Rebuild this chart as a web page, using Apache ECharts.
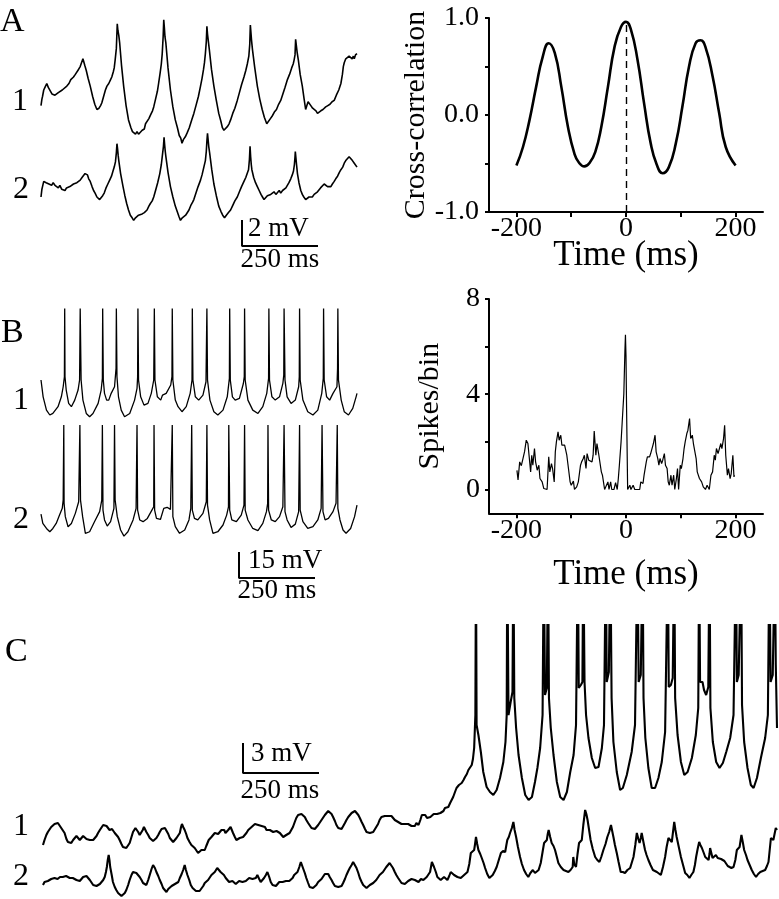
<!DOCTYPE html>
<html>
<head>
<meta charset="utf-8">
<script src="https://cdn.jsdelivr.net/npm/echarts@6/dist/echarts.min.js"></script>
<style>
  html, body { margin: 0; padding: 0; background: #fff; }
  #fig { width: 779px; height: 899px; }
</style>
</head>
<body>
<div id="fig"></div>
<script>
// ---- data: [time ms, membrane potential mV (relative)] ----
const aTrace1 = [[0,2.9],[3,3.4],[5,3.6],[9,4.1],[13,4.3],[19,4.6],[24,4.3],[30,4.2],[36,3.8],[41,3.9],[46,3.7],[52,3.6],[57,3.9],[63,3.8],[70,4.1],[76,4.0],[85,4.4],[92,4.6],[98,4.9],[104,4.8],[107,5.1],[113,5.3],[118,5.2],[124,5.7],[129,5.9],[134,6.0],[138,6.5],[140,6.4],[144,6.0],[149,5.6],[155,5.0],[162,4.4],[170,3.6],[177,3.0],[184,2.6],[191,2.7],[196,2.9],[200,3.1],[206,3.6],[212,4.1],[217,4.4],[223,4.6],[229,4.9],[233,5.1],[238,5.5],[241,5.8],[244,6.4],[248,7.3],[251,9.2],[253,8.7],[256,8.3],[259,7.7],[265,6.0],[272,4.4],[280,2.9],[288,1.8],[296,1.2],[301,0.9],[305,0.8],[311,0.7],[316,0.9],[321,0.7],[327,0.8],[333,1.0],[340,1.1],[344,1.5],[349,1.5],[355,1.9],[361,2.2],[367,2.5],[371,2.8],[377,3.4],[383,4.0],[387,4.6],[392,5.4],[396,6.1],[399,6.9],[402,8.2],[404,9.5],[406,8.9],[408,8.2],[411,7.7],[418,5.8],[426,4.1],[434,2.8],[442,1.8],[449,1.2],[455,0.6],[460,0.4],[464,0],[469,0.3],[475,0.5],[481,0.8],[488,1.2],[496,1.8],[503,2.3],[510,2.9],[518,3.6],[525,4.4],[530,5.0],[535,5.7],[538,6.2],[541,6.9],[544,7.8],[546,9.0],[548,8.4],[551,7.8],[554,7.2],[561,5.7],[569,4.4],[577,3.3],[585,2.3],[592,1.7],[597,1.2],[602,1.0],[608,1.1],[614,1.3],[619,1.5],[624,1.8],[631,2.3],[638,2.7],[646,3.3],[653,3.9],[660,4.5],[668,5.1],[674,5.6],[679,6.1],[684,6.7],[687,7.6],[689,9.1],[691,8.5],[693,7.9],[696,7.2],[703,5.9],[712,4.4],[720,3.4],[728,2.6],[735,2.0],[743,1.5],[749,1.6],[755,1.9],[761,2.1],[768,2.4],[775,2.6],[782,3.0],[789,3.3],[796,3.8],[803,4.3],[811,4.9],[818,5.3],[825,5.8],[830,6.1],[833,6.4],[836,6.8],[838,8.0],[840,7.6],[843,7.0],[847,6.4],[853,5.3],[860,4.4],[866,3.4],[871,2.6],[875,2.9],[879,3.2],[882,3.1],[888,2.9],[894,2.7],[899,2.6],[905,2.5],[910,2.3],[915,2.3],[921,2.5],[928,2.6],[937,2.8],[944,2.9],[951,3.0],[958,3.2],[965,3.3],[972,3.7],[980,4.1],[987,4.6],[992,5.3],[995,5.9],[998,6.2],[1003,6.5],[1008,6.4],[1014,6.7],[1019,6.6],[1024,6.5],[1028,6.7],[1031,6.5],[1035,6.8],[1040,6.9]];

const aTrace2 = [[0,1.9],[3,2.5],[5,2.7],[9,3.1],[13,3.2],[17,3.0],[21,3.1],[26,2.9],[30,3.0],[35,2.8],[40,3.0],[46,2.8],[52,2.8],[57,2.6],[62,2.8],[68,2.5],[73,2.6],[79,2.4],[84,2.6],[90,2.5],[95,2.7],[101,2.7],[107,2.9],[112,2.8],[118,3.0],[124,3.1],[129,3.2],[135,3.4],[140,3.5],[145,3.7],[149,3.8],[153,3.6],[157,3.3],[162,3.1],[168,2.7],[173,2.4],[178,2.2],[184,1.9],[189,1.8],[193,1.7],[198,1.8],[203,2.0],[208,2.2],[214,2.6],[220,2.9],[226,3.2],[232,3.5],[237,3.9],[241,4.2],[245,4.6],[248,5.3],[250,6.0],[252,5.6],[254,5.1],[256,4.7],[262,3.7],[270,2.7],[276,2.0],[282,1.4],[288,0.9],[294,0.5],[300,0.3],[305,0.1],[311,0.3],[316,0.2],[321,0.5],[327,0.5],[333,0.6],[340,0.7],[345,0.8],[349,0.9],[355,1.2],[360,1.4],[366,1.6],[371,1.9],[377,2.4],[384,3.0],[391,3.7],[396,4.4],[400,5.2],[403,5.8],[405,6.5],[407,5.9],[409,5.4],[411,5.0],[418,3.8],[426,2.7],[434,1.9],[442,1.2],[448,0.8],[454,0.4],[459,0.1],[465,0.3],[470,0.4],[476,0.5],[481,0.6],[487,0.9],[494,1.3],[499,1.5],[503,1.7],[510,2.2],[517,2.7],[525,3.2],[530,3.6],[536,4.2],[541,4.7],[544,5.4],[546,6.2],[548,6.8],[550,6.3],[552,5.8],[555,5.3],[562,4.0],[569,2.9],[577,2.0],[585,1.2],[592,0.8],[598,0.5],[604,0.3],[610,0.5],[617,0.7],[624,0.9],[630,1.2],[638,1.6],[646,1.9],[653,2.3],[660,2.7],[668,3.1],[674,3.4],[680,3.8],[683,4.0],[686,4.8],[688,5.8],[690,5.0],[692,4.4],[694,4.0],[700,3.4],[706,3.0],[712,2.7],[718,2.4],[724,2.1],[729,1.9],[734,1.7],[740,1.8],[745,2.0],[750,1.9],[756,2.1],[761,2.2],[767,2.3],[773,2.1],[778,2.2],[784,2.4],[789,2.2],[795,2.4],[800,2.5],[806,2.6],[811,2.7],[816,3.0],[822,3.3],[827,3.6],[831,3.9],[834,4.4],[836,5.0],[837,5.4],[839,4.9],[841,4.4],[844,3.7],[849,3.0],[855,2.4],[860,2.1],[865,1.9],[871,1.7],[876,1.8],[882,1.9],[887,1.8],[893,1.9],[899,2.1],[904,2.2],[910,2.3],[915,2.3],[920,2.6],[926,2.7],[932,2.9],[937,2.8],[943,2.7],[948,2.8],[954,2.7],[959,2.9],[965,3.1],[970,3.3],[976,3.5],[982,3.8],[987,4.0],[993,4.2],[998,4.5],[1003,4.7],[1008,4.8],[1014,5.0],[1019,4.9],[1025,4.7],[1031,4.5],[1036,4.4],[1040,4.2]];

// cross-correlation of the two A traces
const xcorrLag = [-200,-188,-176,-164,-152,-141,-130,-118,-106,-94,-86,-76,-66,-56,-45,-33,-21,-9,0,9,21,33,45,56,67,78,91,103,115,127,136,145,158,170,182,200];
const xcorrVal = [-0.52,-0.33,-0.05,0.29,0.60,0.74,0.64,0.29,-0.12,-0.40,-0.49,-0.53,-0.49,-0.38,-0.12,0.29,0.70,0.91,0.96,0.88,0.57,0.12,-0.29,-0.51,-0.60,-0.54,-0.29,0.09,0.50,0.74,0.77,0.70,0.40,0.02,-0.33,-0.52];

const bTrace1 = [[0,21.2],[7,11.5],[18,3.8],[29,1.0],[39,1.9],[56,5.8],[67,11.5],[73,17.3],[77,23.1],[78,62.5],[79,23.1],[83,15.4],[91,7.7],[100,5.8],[111,9.6],[122,15.4],[127,21.2],[129,62.5],[132,21.2],[138,9.6],[149,1.9],[160,0],[171,1.9],[188,7.7],[198,15.4],[202,22.1],[203,62.5],[205,21.2],[209,13.5],[216,9.6],[223,9.6],[231,13.5],[242,17.3],[247,27.9],[248,62.5],[250,23.1],[255,11.5],[264,3.8],[275,0],[292,1.9],[308,9.6],[316,16.3],[318,23.1],[319,62.5],[321,21.2],[328,11.5],[339,6.7],[352,7.7],[363,13.5],[371,21.2],[373,62.5],[375,21.2],[383,11.5],[394,9.6],[400,12.5],[412,13.5],[427,18.3],[431,23.1],[432,62.5],[434,21.2],[442,9.6],[451,5.8],[464,2.9],[478,5.8],[491,13.5],[497,21.2],[498,62.5],[500,21.2],[508,11.5],[519,9.6],[533,12.5],[543,20.2],[546,62.5],[548,21.2],[556,9.6],[569,2.9],[582,1.0],[599,3.8],[613,11.5],[620,22.1],[621,62.5],[623,21.2],[630,11.5],[639,9.6],[653,10.6],[666,19.2],[669,23.1],[670,62.5],[672,21.2],[681,9.6],[697,3.8],[714,1.9],[730,5.8],[743,13.5],[749,22.1],[750,62.5],[752,21.2],[760,11.5],[771,9.6],[785,11.5],[796,19.2],[799,24],[800,62.5],[803,21.2],[810,11.5],[823,7.7],[837,9.6],[848,17.3],[850,23.1],[851,62.5],[853,21.2],[862,9.6],[878,2.9],[895,1.0],[911,3.8],[924,13.5],[929,22.1],[930,62.5],[932,21.2],[940,11.5],[950,9.6],[961,13.5],[974,17.3],[976,27.9],[977,62.5],[979,21.2],[988,9.6],[998,2.9],[1012,1.0],[1026,4.8],[1037,11.5],[1040,13.5]];

const bTrace2 = [[0,12.1],[6,6.7],[18,3.8],[29,1.9],[39,3.8],[50,6.7],[61,11.5],[70,15.4],[73,20.2],[75,63.5],[76,18.3],[80,10.6],[89,4.8],[100,6.7],[113,12.5],[124,19.2],[128,63.5],[130,20.2],[137,10.6],[146,1.0],[160,1.9],[176,7.7],[193,13.5],[200,20.2],[202,63.5],[204,14.4],[209,8.7],[218,5.2],[229,7.7],[240,15.4],[242,63.5],[244,20.2],[251,10.6],[262,2.9],[273,-0.6],[286,1.9],[303,8.7],[313,15.4],[316,63.5],[318,14.4],[325,8.7],[336,7.7],[350,9.6],[365,14.4],[371,16.3],[372,63.5],[374,14.4],[380,9.6],[393,9.0],[404,15.4],[415,16.0],[426,14.8],[431,14.4],[432,63.5],[434,10.6],[442,4.8],[456,1.0],[473,2.9],[487,8.7],[493,15.4],[496,63.5],[498,14.4],[505,9.6],[516,8.7],[533,12.5],[544,19.2],[546,63.5],[548,17.3],[555,8.7],[566,1.0],[582,1.9],[599,5.8],[611,11.5],[617,16.3],[618,63.5],[621,14.4],[628,8.7],[643,7.7],[659,11.5],[668,17.3],[670,63.5],[672,14.4],[681,8.7],[697,3.8],[714,2.5],[730,6.7],[742,13.5],[746,18.3],[747,63.5],[749,14.4],[758,8.7],[771,7.7],[785,10.6],[796,16.3],[800,63.5],[803,13.5],[810,8.7],[823,4.4],[837,6.3],[848,13.5],[851,63.5],[853,14.4],[862,7.7],[878,3.8],[895,4.8],[911,8.7],[922,15.4],[925,63.5],[928,13.5],[935,8.7],[946,9.6],[961,13.5],[971,18.3],[975,63.5],[977,15.4],[984,8.7],[994,2.9],[1004,1.0],[1019,3.8],[1032,10.6],[1040,17.3]];

// cross-correlogram of B spikes: [lag ms, spikes/bin]
const spikeHist = [[-199,0.8],[-197,0.4],[-194,1.16],[-191,1.0],[-188,1.3],[-185,1.6],[-182,2.07],[-179,1.93],[-176,1.93],[-174,0.74],[-172,1.44],[-170,1.02],[-167,1.72],[-165,1.16],[-162,0.81],[-159,1.02],[-157,0.46],[-153,0.32],[-150,0.04],[-147,0],[-144,0],[-141,1.37],[-139,0.74],[-136,1.09],[-134,0.88],[-131,0.32],[-129,1.58],[-127,2.0],[-124,2.42],[-122,2.07],[-119,2.28],[-117,1.86],[-115,1.79],[-112,1.86],[-108,1.44],[-105,0.88],[-102,0.32],[-100,0.18],[-96,0.35],[-94,0],[-90,0.11],[-87,0.32],[-83,1.02],[-81,1.16],[-78,1.30],[-76,1.44],[-73,0.88],[-71,1.51],[-68,1.23],[-65,1.30],[-62,1.16],[-60,1.44],[-58,2.45],[-55,1.44],[-53,1.93],[-50,1.51],[-48,1.51],[-45,0.74],[-43,0.60],[-39,0],[-36,0],[-33,0.32],[-31,0],[-28,0.32],[-26,0],[-22,0],[-19,0.29],[-16,0],[-14,0.46],[-12,1.05],[-9,2.0],[-7,2.8],[-4,4.0],[-2,5.8],[-1,6.5],[0,5.6],[1,3.5],[3,0],[7,0.18],[9,0],[13,0.18],[16,0],[21,0],[25,0],[27,0.32],[31,0.25],[33,0.6],[37,1.16],[39,1.37],[43,1.37],[45,1.51],[48,1.44],[50,1.93],[53,2.28],[55,1.58],[58,1.30],[60,1.02],[62,1.30],[65,1.09],[67,1.23],[70,1.51],[72,1.02],[75,0.88],[77,0.32],[79,0.18],[82,0.6],[84,0.18],[87,0.6],[89,0],[92,0.46],[94,0.88],[96,0],[99,1.02],[101,0.88],[104,1.30],[106,1.72],[108,2.0],[111,2.35],[113,2.49],[116,2.98],[118,2.14],[121,2.28],[123,1.93],[126,2.0],[128,1.30],[130,0.74],[134,0.46],[138,0.32],[141,0.11],[145,0],[148,0.18],[152,0],[155,0.6],[158,0.74],[161,1.44],[163,1.23],[165,1.72],[168,1.51],[170,1.58],[173,1.93],[175,1.72],[178,2.14],[180,2.70],[182,1.44],[185,0.6],[187,0.88],[190,0.46],[192,0.67],[195,1.44],[197,0.53],[198,0.6]];

const cTrace1 = [[0,0.5],[5,1.0],[11,1.5],[16,1.8],[22,2.0],[27,2.3],[33,2.4],[38,2.6],[44,2.8],[49,2.7],[55,2.5],[60,2.2],[66,2.0],[71,1.7],[77,1.1],[82,0.8],[88,1.0],[93,0.7],[99,1.0],[104,1.2],[110,1.4],[115,1.3],[121,1.0],[126,1.1],[132,1.4],[137,1.3],[143,1.1],[148,1.2],[154,1.0],[159,0.9],[165,1.0],[170,1.2],[176,1.4],[181,1.7],[187,2.0],[192,2.2],[198,2.5],[203,2.3],[209,2.4],[214,2.2],[219,2.0],[223,1.8],[227,2.1],[230,2.0],[236,1.7],[241,1.5],[247,1.3],[252,1.0],[258,0.6],[263,0.3],[269,0.3],[274,0.2],[280,0.4],[285,0.7],[291,1.3],[296,1.8],[300,2.0],[304,2.2],[309,2.0],[313,1.8],[318,1.5],[323,1.7],[328,2.0],[332,2.3],[336,2.1],[340,1.8],[346,1.5],[351,1.2],[357,1.0],[362,0.9],[368,1.0],[373,1.2],[379,1.5],[384,1.8],[390,2.1],[395,2.3],[401,2.2],[406,2.0],[412,1.6],[417,1.2],[423,1.0],[428,0.8],[434,1.0],[439,1.2],[445,1.4],[450,1.7],[454,2.3],[457,2.6],[461,2.3],[466,2.0],[471,1.6],[475,1.2],[482,0.8],[488,0.5],[494,0.4],[499,0.2],[505,0],[510,-0.3],[516,-0.1],[521,0],[527,-0.1],[532,0],[537,0.4],[541,0.7],[545,1.0],[548,1.2],[554,1.3],[559,1.5],[565,1.7],[570,1.8],[576,1.6],[581,1.7],[587,2.0],[592,2.2],[596,2.0],[600,1.7],[605,1.8],[609,2.0],[613,2.2],[617,2.3],[621,2.0],[625,1.7],[631,1.3],[636,1.0],[642,1.1],[647,1.2],[653,1.4],[658,1.3],[664,1.5],[669,1.7],[675,2.0],[680,2.2],[686,2.3],[691,2.5],[697,2.6],[702,2.7],[708,2.5],[713,2.3],[719,2.4],[724,2.5],[730,2.3],[735,2.0],[741,2.1],[746,2.0],[752,1.9],[757,1.8],[763,2.0],[768,1.9],[774,1.8],[779,1.7],[785,1.5],[790,1.3],[795,1.4],[800,1.5],[806,1.6],[811,1.7],[817,1.9],[822,2.3],[828,2.8],[833,3.2],[839,3.5],[844,3.7],[850,3.6],[855,3.5],[861,3.3],[866,3.0],[872,2.7],[877,2.5],[883,2.2],[888,2.0],[894,2.1],[899,2.3],[905,2.5],[910,2.7],[916,3.0],[921,3.2],[927,3.5],[932,3.7],[938,3.9],[943,3.8],[949,3.6],[954,3.3],[960,2.9],[965,2.5],[971,2.2],[976,2.0],[982,2.1],[987,2.3],[993,2.7],[998,3.0],[1004,3.3],[1009,3.5],[1015,3.7],[1020,3.8],[1026,3.9],[1031,3.8],[1037,3.5],[1042,3.2],[1048,2.8],[1053,2.5],[1059,2.1],[1064,1.8],[1070,1.7],[1075,1.7],[1081,1.9],[1086,1.8],[1091,2.0],[1096,2.3],[1102,2.6],[1107,3.0],[1113,3.3],[1118,3.5],[1124,3.4],[1129,3.3],[1135,3.4],[1140,3.5],[1146,3.4],[1151,3.2],[1157,3.0],[1162,2.8],[1168,2.8],[1173,2.7],[1179,2.6],[1184,2.5],[1190,2.6],[1195,2.7],[1201,2.6],[1206,2.5],[1212,2.4],[1217,2.2],[1223,2.4],[1228,2.7],[1235,2.5],[1241,3.0],[1246,3.5],[1252,3.4],[1257,3.5],[1263,3.2],[1268,3.0],[1274,3.3],[1279,3.5],[1285,3.6],[1290,3.7],[1296,3.6],[1301,3.8],[1307,3.7],[1312,3.5],[1317,3.9],[1322,4.2],[1328,4.1],[1333,4.3],[1339,4.7],[1344,5.0],[1349,5.3],[1355,5.8],[1360,6.2],[1368,6.5],[1377,6.7],[1383,7.0],[1388,7.3],[1394,7.6],[1399,8.0],[1405,8.2],[1410,8.5],[1414,9.1],[1418,10.2],[1422,13.5],[1424,30],[1426,12.5],[1432,11.5],[1440,9.8],[1448,7.8],[1459,6.3],[1470,5.8],[1481,5.5],[1492,6.0],[1503,7.2],[1514,8.8],[1521,10.8],[1525,13.5],[1527,30],[1531,13.5],[1538,14.8],[1544,15.8],[1547,30],[1550,15.2],[1556,12.2],[1564,9.5],[1575,7.2],[1586,5.5],[1597,5.0],[1608,5.3],[1618,6.8],[1626,8.2],[1635,10.2],[1643,13.5],[1647,30],[1651,15.5],[1657,16.2],[1661,30],[1664,15.2],[1670,12.2],[1679,9.5],[1690,6.8],[1701,5.3],[1712,5.0],[1723,5.8],[1734,7.8],[1745,9.5],[1753,12.5],[1759,30],[1762,16.2],[1769,16.5],[1774,16.8],[1777,30],[1781,16.8],[1786,13.5],[1794,11.2],[1805,9.2],[1816,8.2],[1827,8.3],[1838,10.2],[1845,12.5],[1851,30],[1854,16.8],[1861,17.8],[1866,30],[1870,15.2],[1876,10.8],[1887,7.8],[1898,6.0],[1907,6.2],[1920,7.5],[1936,9.8],[1947,12.5],[1955,30],[1959,16.8],[1966,17.5],[1972,30],[1975,15.2],[1981,11.2],[1991,8.2],[2002,6.2],[2013,6.2],[2024,7.2],[2035,8.8],[2046,11.8],[2055,30],[2058,16.3],[2065,16.5],[2071,17.2],[2076,30],[2079,15.2],[2087,11.5],[2098,8.8],[2109,7.5],[2120,7.8],[2134,9.2],[2147,11.5],[2155,14.2],[2158,30],[2161,16.8],[2169,16.8],[2174,16.0],[2181,15.5],[2188,16.3],[2192,30],[2195,14.2],[2203,10.8],[2214,8.8],[2225,8.2],[2236,8.7],[2247,9.8],[2260,11.2],[2271,13.5],[2279,30],[2282,16.8],[2288,17.5],[2296,30],[2299,14.5],[2306,10.8],[2317,8.2],[2328,6.5],[2337,6.2],[2348,7.2],[2361,9.2],[2375,11.2],[2384,13.5],[2389,30],[2393,16.8],[2400,17.5],[2407,30],[2410,18.5],[2414,12.2]];

const cTrace2 = [[0,0.5],[5,0.8],[11,0.7],[16,0.9],[22,0.8],[27,1.1],[33,1.0],[38,1.2],[44,1.3],[48,1.1],[52,1.0],[56,1.3],[60,1.5],[65,1.3],[71,1.2],[76,1.4],[82,1.5],[88,1.2],[93,1.0],[98,1.2],[104,1.3],[110,1.0],[115,0.8],[121,0.9],[126,1.0],[132,1.3],[137,1.5],[143,1.4],[148,1.2],[154,1.0],[159,0.8],[165,0.5],[170,0.3],[176,0.4],[181,0.5],[187,0.6],[192,0.8],[198,1.0],[203,1.3],[207,1.8],[210,2.3],[213,3.0],[216,3.5],[219,2.9],[221,2.3],[226,1.5],[230,0.8],[236,0.3],[241,0],[247,-0.3],[252,-0.5],[258,-0.6],[263,-0.7],[269,-0.3],[274,0],[280,0.5],[285,1.0],[291,1.5],[296,1.8],[302,1.6],[307,1.7],[313,1.5],[318,1.3],[324,1.0],[329,0.7],[335,0.6],[340,0.5],[346,1.0],[351,1.5],[357,2.1],[362,2.5],[368,2.2],[373,1.8],[379,1.4],[384,1.0],[390,0.6],[395,0.2],[401,0],[406,-0.2],[412,0.1],[417,0.3],[423,0.4],[428,0.5],[434,0.6],[439,0.5],[445,0.8],[450,1.2],[456,1.6],[461,2.0],[466,2.5],[470,2.0],[475,1.5],[481,1.0],[486,0.5],[492,0.2],[497,0],[503,-0.1],[508,-0.2],[515,-0.1],[521,0],[527,0.4],[532,0.7],[538,0.9],[543,1.0],[549,1.2],[554,1.5],[560,1.6],[565,1.8],[569,2.0],[573,2.2],[579,2.0],[584,1.8],[590,1.6],[595,1.5],[601,1.2],[606,1.0],[612,0.8],[617,0.7],[623,0.9],[628,0.8],[634,0.6],[639,0.7],[645,0.9],[650,1.0],[656,0.8],[661,0.7],[667,0.9],[672,1.0],[678,1.2],[683,1.3],[689,1.1],[695,1.0],[700,1.2],[705,1.5],[711,1.1],[716,0.8],[722,1.0],[727,1.2],[733,1.5],[738,1.8],[744,1.3],[749,0.8],[755,0.5],[760,0.3],[766,0.4],[771,0.5],[777,0.8],[782,1.0],[788,0.8],[793,0.7],[799,0.9],[804,0.8],[810,0.9],[815,1.0],[821,1.2],[826,1.5],[832,1.6],[837,1.8],[843,2.3],[848,2.8],[852,2.6],[855,2.2],[861,1.7],[866,1.2],[872,0.7],[877,0.3],[883,0.2],[888,0.2],[894,0.4],[899,0.5],[905,0.8],[910,1.0],[916,1.1],[921,1.3],[927,1.6],[932,1.8],[938,1.6],[943,1.3],[949,1.0],[954,0.7],[960,0.4],[965,0.2],[971,0.3],[976,0.2],[982,0.4],[987,0.7],[993,1.1],[998,1.5],[1004,1.9],[1009,2.2],[1015,2.5],[1020,2.8],[1026,2.6],[1031,2.2],[1037,1.7],[1042,1.2],[1048,0.8],[1053,0.5],[1059,0.3],[1064,0.2],[1070,0.4],[1075,0.5],[1081,0.6],[1086,0.7],[1091,0.9],[1096,1.0],[1102,1.2],[1107,1.5],[1113,1.6],[1118,1.8],[1124,2.0],[1129,2.3],[1135,2.5],[1140,2.7],[1146,2.5],[1151,2.2],[1157,1.8],[1162,1.5],[1168,1.2],[1173,1.0],[1179,0.7],[1184,0.5],[1190,0.6],[1195,0.7],[1201,0.9],[1206,1.0],[1212,1.1],[1217,1.2],[1223,1.0],[1228,0.8],[1235,0.8],[1243,1.1],[1251,1.0],[1257,1.2],[1262,1.3],[1268,1.5],[1273,1.8],[1276,2.3],[1279,2.8],[1283,2.6],[1286,2.3],[1292,1.8],[1297,1.3],[1303,1.1],[1308,1.0],[1314,1.2],[1319,1.3],[1325,1.1],[1330,1.0],[1336,1.4],[1341,1.8],[1347,1.6],[1352,1.5],[1358,1.4],[1363,1.3],[1369,1.3],[1374,1.2],[1380,1.3],[1385,1.5],[1391,1.6],[1396,1.8],[1402,2.6],[1407,3.7],[1413,3.8],[1418,4.0],[1421,4.6],[1424,5.3],[1428,4.6],[1432,4.0],[1438,3.6],[1443,3.2],[1449,2.7],[1454,2.2],[1461,1.6],[1468,1.2],[1474,1.3],[1479,1.5],[1486,1.9],[1492,2.3],[1499,3.0],[1506,3.7],[1513,3.9],[1520,3.8],[1524,4.5],[1527,5.0],[1532,5.3],[1536,5.7],[1542,6.2],[1547,6.8],[1551,6.0],[1556,5.3],[1562,4.3],[1569,3.3],[1575,2.6],[1582,2.0],[1589,1.6],[1596,1.3],[1603,1.7],[1611,2.0],[1618,1.7],[1624,1.5],[1630,2.0],[1637,2.7],[1643,3.8],[1648,4.7],[1652,4.8],[1657,5.0],[1660,5.6],[1663,6.0],[1668,5.3],[1673,4.7],[1679,4.4],[1684,4.0],[1690,3.3],[1695,2.7],[1703,2.3],[1712,2.0],[1720,1.9],[1728,1.8],[1735,2.0],[1742,2.3],[1744,3.3],[1747,2.6],[1753,2.3],[1758,3.6],[1763,4.7],[1768,4.8],[1772,5.0],[1777,6.5],[1783,8.0],[1787,7.6],[1791,7.0],[1796,6.0],[1801,5.0],[1808,4.1],[1816,3.3],[1823,3.0],[1830,2.8],[1836,3.3],[1843,4.0],[1850,4.6],[1856,5.3],[1862,5.8],[1868,6.5],[1872,5.9],[1876,5.3],[1881,4.5],[1887,3.7],[1893,2.8],[1900,1.8],[1907,1.8],[1914,1.7],[1922,2.0],[1931,2.2],[1936,2.7],[1942,3.3],[1948,4.5],[1953,5.7],[1958,5.1],[1962,4.7],[1966,5.2],[1969,5.7],[1974,4.9],[1980,4.0],[1985,3.5],[1991,3.0],[1998,2.5],[2006,2.0],[2012,1.9],[2019,1.8],[2025,1.7],[2032,1.5],[2039,2.3],[2046,3.3],[2051,4.3],[2057,5.2],[2063,5.0],[2068,4.8],[2072,5.8],[2076,6.8],[2080,6.0],[2084,5.3],[2091,4.3],[2098,3.3],[2105,2.5],[2112,1.7],[2119,1.5],[2126,1.2],[2132,1.5],[2139,1.8],[2144,2.5],[2148,3.3],[2153,4.1],[2158,4.8],[2162,4.5],[2167,4.2],[2172,3.8],[2178,3.3],[2184,3.1],[2189,3.0],[2192,3.6],[2194,4.2],[2198,3.7],[2202,3.2],[2208,3.3],[2213,3.5],[2219,3.2],[2224,3.0],[2230,3.1],[2235,3.0],[2241,2.9],[2246,2.7],[2252,2.4],[2257,2.2],[2264,2.2],[2271,2.3],[2277,3.0],[2282,4.0],[2287,4.2],[2291,4.3],[2294,4.9],[2297,5.5],[2302,4.7],[2306,4.0],[2312,3.5],[2317,3.0],[2324,2.5],[2331,2.0],[2338,1.6],[2345,1.3],[2352,1.6],[2359,1.8],[2367,1.9],[2375,2.0],[2381,2.4],[2386,2.8],[2390,4.0],[2394,5.2],[2398,5.1],[2402,5.0],[2406,5.6],[2410,6.2],[2414,6.0]];

// scale bars: [ms, mV]
const scaleA = [250, 2];
const scaleB = [250, 15];
const scaleC = [250, 3];

const SERIF = '"Liberation Serif", "DejaVu Serif", serif';

const grids = [], xAxes = [], yAxes = [], series = [];

function hiddenPanel(box, xr, yr) {
  grids.push(Object.assign({ outerBoundsMode: 'none', containLabel: false }, box));
  const i = grids.length - 1;
  xAxes.push({ gridIndex: i, type: 'value', min: xr[0], max: xr[1], show: false });
  yAxes.push({ gridIndex: i, type: 'value', min: yr[0], max: yr[1], show: false });
  return i;
}

function trace(i, data, width) {
  series.push({
    type: 'line', xAxisIndex: i, yAxisIndex: i, data: data,
    symbol: 'none', silent: true,
    lineStyle: { color: '#000', width: width }
  });
}

function scaleBar(i, s) {
  series.push({
    type: 'line', xAxisIndex: i, yAxisIndex: i, clip: false,
    data: [[0, s[1]], [0, 0], [s[0], 0]],
    symbol: 'none', silent: true,
    lineStyle: { color: '#000', width: 2 }
  });
}

function framedPanel(box, opts) {
  grids.push(Object.assign({ outerBoundsMode: 'none', containLabel: false }, box));
  const i = grids.length - 1;
  const line = { onZero: false, lineStyle: { color: '#000', width: 2 } };
  xAxes.push({
    gridIndex: i, type: 'value', min: -250, max: 250,
    axisLine: line,
    axisTick: { show: true, customValues: [-200, -100, 0, 100, 200], length: 5, lineStyle: { color: '#000', width: 2 } },
    axisLabel: { customValues: [-200, 0, 200], color: '#000', fontFamily: SERIF, fontSize: 28, margin: 3 },
    splitLine: { show: false },
    name: 'Time (ms)', nameLocation: 'middle', nameGap: opts.xNameGap, nameMoveOverlap: false,
    nameTextStyle: { color: '#000', fontFamily: SERIF, fontSize: 35 }
  });
  yAxes.push({
    gridIndex: i, type: 'value', min: opts.ymin, max: opts.ymax,
    axisLine: line,
    axisTick: { show: true, customValues: opts.ticks, length: 4, lineStyle: { color: '#000', width: 2 } },
    axisLabel: { customValues: opts.labels, formatter: opts.fmt, color: '#000', fontFamily: SERIF, fontSize: 28, margin: opts.labelMargin },
    splitLine: { show: false },
    name: opts.yName, nameLocation: 'middle', nameGap: opts.yNameGap,
    nameTextStyle: { color: '#000', fontFamily: SERIF, fontSize: 30 }
  });
  return i;
}

// ---- panel A ----
const gA1 = hiddenPanel({ left: 41, top: 13.3, width: 316, height: 136.5 }, [0, 1040], [-0.5, 10]);
const gA2 = hiddenPanel({ left: 41, top: 130.7, width: 316, height: 97.5 }, [0, 1040], [-0.5, 7]);
const gAs = hiddenPanel({ left: 242, top: 220, width: 76, height: 26 }, [0, 250], [0, 2]);
trace(gA1, aTrace1, 1.6);
trace(gA2, aTrace2, 1.6);
scaleBar(gAs, scaleA);

const gAx = framedPanel({ left: 489, top: 18, width: 274, height: 194 }, {
  ymin: -1, ymax: 1, ticks: [-1, -0.5, 0, 0.5, 1], labels: [-1, 0, 1],
  fmt: v => v.toFixed(1), labelMargin: 10, yName: 'Cross-correlation', yNameGap: 56, xNameGap: 26
});
series.push({
  type: 'line', xAxisIndex: gAx, yAxisIndex: gAx, silent: true,
  data: xcorrLag.map((t, k) => [t, xcorrVal[k]]),
  smooth: 0.5, symbol: 'none',
  lineStyle: { color: '#000', width: 2.6 },
  markLine: {
    silent: true, symbol: 'none', label: { show: false },
    lineStyle: { color: '#000', width: 1.4, type: [7, 5] },
    data: [[{ coord: [0, -1] }, { coord: [0, xcorrVal[xcorrLag.indexOf(0)] - 0.03] }]]
  }
});

// ---- panel B ----
const gB1 = hiddenPanel({ left: 41, top: 304.1, width: 316, height: 116.1 }, [0, 1040], [-2, 65]);
const gB2 = hiddenPanel({ left: 41, top: 422.4, width: 316, height: 116.1 }, [0, 1040], [-2, 65]);
const gBs = hiddenPanel({ left: 239, top: 552, width: 76, height: 26 }, [0, 250], [0, 15]);
trace(gB1, bTrace1, 1.3);
trace(gB2, bTrace2, 1.3);
scaleBar(gBs, scaleB);

const gBh = framedPanel({ left: 489, top: 299, width: 274, height: 214.3 }, {
  ymin: -1, ymax: 8, ticks: [0, 2, 4, 6, 8], labels: [0, 4, 8],
  fmt: v => String(v), labelMargin: 9, yName: 'Spikes/bin', yNameGap: 44, xNameGap: 44
});
trace(gBh, spikeHist, 1.2);

// ---- panel C ----
const gC1 = hiddenPanel({ left: 43, top: 625, width: 734, height: 235 }, [0, 2414], [-1, 22.5]);
const gC2 = hiddenPanel({ left: 43, top: 800, width: 734, height: 100 }, [0, 2414], [-1, 9]);
const gCs = hiddenPanel({ left: 243, top: 743, width: 76, height: 30 }, [0, 250], [0, 3]);
trace(gC1, cTrace1, 2.1);
trace(gC2, cTrace2, 2.1);
scaleBar(gCs, scaleC);

// ---- text labels ----
function txt(str, x, y, size, align) {
  return {
    type: 'text', x: x, y: y, silent: true,
    style: { text: str, fill: '#000', fontFamily: SERIF, fontSize: size, align: align || 'left', verticalAlign: 'middle' }
  };
}
const labels = [
  txt('A', 0, 22, 34), txt('1', 20, 102, 32, 'center'), txt('2', 21, 190, 32, 'center'),
  txt('B', 1, 333, 34), txt('1', 21, 401, 32, 'center'), txt('2', 21, 520, 32, 'center'),
  txt('C', 5, 652, 34), txt('1', 21, 827, 32, 'center'), txt('2', 21, 877, 32, 'center'),
  txt(scaleA[1] + ' mV', 248, 229, 27), txt(scaleA[0] + ' ms', 280, 260, 27, 'center'),
  txt(scaleB[1] + ' mV', 248, 561, 27), txt(scaleB[0] + ' ms', 277, 591, 27, 'center'),
  txt(scaleC[1] + ' mV', 251, 754, 27), txt(scaleC[0] + ' ms', 280, 791, 27, 'center')
];

const chart = echarts.init(document.getElementById('fig'), null, { renderer: 'canvas' });
chart.setOption({
  backgroundColor: '#fff',
  animation: false,
  grid: grids,
  xAxis: xAxes,
  yAxis: yAxes,
  series: series,
  graphic: labels
});
</script>
</body>
</html>
